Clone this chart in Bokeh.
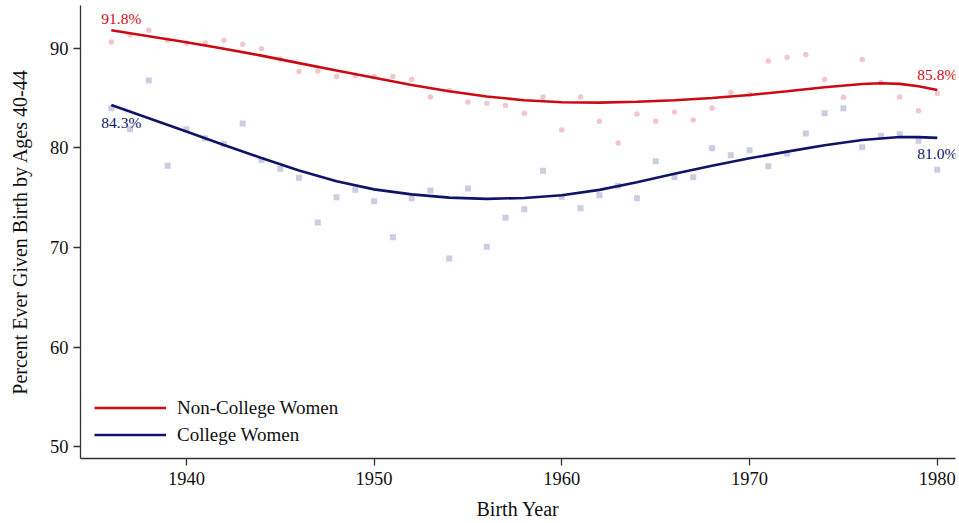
from bokeh.plotting import figure
from bokeh.models import Range1d, Legend, LegendItem
from bokeh.core.properties import value
from bokeh.embed import file_html
from bokeh.resources import INLINE

# Birth cohorts 1936-1980
years = list(range(1936, 1981))

# Share of women who have ever given birth by ages 40-44 (%), per cohort
noncollege = [90.63, 91.33, 91.8, 90.8, 90.53, 90.53, 90.8, 90.4, 89.93, 88.9,
              87.65, 87.72, 87.15, 87.25, 87.15,
              87.15, 86.85, 85.1, 85.74, 84.6, 84.47, 84.24, 83.47, 85.1, 81.8,
              85.1, 82.66, 80.49, 83.4, 82.66,
              83.6, 82.8, 83.97, 85.57, 85.37, 88.72, 89.06, 89.36, 86.85, 85.07,
              88.86, 86.55, 85.1, 83.73, 85.44]
college = [83.97, 81.86, 86.75, 78.21, 81.86, 80.96, 80.35, 82.43, 78.78, 77.91,
           77.0, 72.52, 75.03, 75.8, 74.63,
           71.02, 74.93, 75.73, 68.9, 75.93, 70.08, 72.99, 73.83, 77.71, 75.1,
           73.93, 75.23, 76.2, 74.93, 78.65,
           77.04, 77.04, 79.95, 79.25, 79.75, 78.14, 79.42, 81.43, 83.47, 83.97,
           80.05, 81.19, 81.36, 80.72, 77.81]

# Smoothed trend values
fit_noncollege_years = [1936, 1938, 1940, 1942, 1944, 1946, 1948, 1950, 1952, 1954,
                        1956, 1958, 1960, 1962, 1964, 1966, 1968, 1970, 1972, 1974,
                        1976, 1977, 1978, 1979, 1980]
fit_noncollege = [91.8, 91.2, 90.6, 89.95, 89.25, 88.5, 87.75, 87.03, 86.3, 85.68,
                  85.15, 84.78, 84.58, 84.54, 84.62, 84.77, 85.0, 85.3, 85.68, 86.08,
                  86.4, 86.48, 86.42, 86.18, 85.8]
fit_college_years = [1936, 1938, 1940, 1942, 1944, 1946, 1948, 1950, 1952, 1954,
                     1956, 1958, 1960, 1962, 1964, 1966, 1968, 1970, 1972, 1974,
                     1976, 1978, 1979, 1980]
fit_college = [84.3, 82.97, 81.63, 80.29, 78.97, 77.73, 76.65, 75.83, 75.33, 75.0,
               74.88, 74.97, 75.25, 75.78, 76.55, 77.4, 78.2, 78.95, 79.62, 80.25,
               80.78, 81.08, 81.07, 81.0]

x_ticks = [1940, 1950, 1960, 1970, 1980]
y_ticks = [50, 60, 70, 80, 90]

RED = "#cc0a14"
NAVY = "#0e1566"
FONT = "Liberation Serif"

p = figure(width=959, height=523, output_backend="svg", toolbar_location=None,
           x_range=Range1d(1934.36, 1980.97), y_range=Range1d(48.83, 94.28),
           min_border_left=80, min_border_right=4, min_border_top=5,
           min_border_bottom=65)
p.outline_line_color = None
p.grid.visible = False
p.background_fill_color = "white"

# raw cohort points
p.scatter(years, noncollege, marker="circle", size=5.5, fill_color="#f2c6cb",
          line_color=None)
p.scatter(years, college, marker="square", size=6, fill_color="#cbcde0",
          line_color=None)

# trend lines
r_nc = p.line(fit_noncollege_years, fit_noncollege, line_color=RED, line_width=2.6)
r_c = p.line(fit_college_years, fit_college, line_color=NAVY, line_width=2.6)

# endpoint labels
def pct(v):
    return f"{v:.1f}%"

lbl_font = value(FONT)
p.text(x=[fit_noncollege_years[0]], y=[fit_noncollege[0]],
       text=[pct(fit_noncollege[0])], x_offset=10, y_offset=-3,
       text_align="center", text_baseline="bottom", text_color=RED,
       text_font=lbl_font, text_font_size="15.5px")
p.text(x=[fit_college_years[0]], y=[fit_college[0]],
       text=[pct(fit_college[0])], x_offset=10, y_offset=9,
       text_align="center", text_baseline="top", text_color=NAVY,
       text_font=lbl_font, text_font_size="15.5px")
p.text(x=[fit_noncollege_years[-1]], y=[fit_noncollege[-1]],
       text=[pct(fit_noncollege[-1])], x_offset=0, y_offset=-7,
       text_align="center", text_baseline="bottom", text_color=RED,
       text_font=lbl_font, text_font_size="15.5px")
p.text(x=[fit_college_years[-1]], y=[fit_college[-1]],
       text=[pct(fit_college[-1])], x_offset=0, y_offset=7,
       text_align="center", text_baseline="top", text_color=NAVY,
       text_font=lbl_font, text_font_size="15.5px")

# axes
for ax in (p.xaxis[0], p.yaxis[0]):
    ax.axis_line_color = "#333333"
    ax.axis_line_width = 1.3
    ax.major_tick_line_color = "#333333"
    ax.major_tick_line_width = 1.3
    ax.major_tick_in = 0
    ax.major_tick_out = 7
    ax.minor_tick_line_color = None
    ax.major_label_text_font = FONT
    ax.major_label_text_font_size = "18.5px"
    ax.major_label_text_color = "#111111"
    ax.axis_label_text_font = FONT
    ax.axis_label_text_font_size = "20px"
    ax.axis_label_text_font_style = "normal"
    ax.axis_label_text_color = "#111111"

p.xaxis.ticker = x_ticks
p.yaxis.ticker = y_ticks
p.xaxis.axis_label = "Birth Year"
p.yaxis.axis_label = "Percent Ever Given Birth by Ages 40-44"
p.xaxis.major_label_standoff = 6
p.yaxis.major_label_standoff = 5
p.xaxis.axis_label_standoff = 10
p.yaxis.axis_label_standoff = 16

legend = Legend(items=[LegendItem(label="Non-College Women", renderers=[r_nc]),
                       LegendItem(label="College Women", renderers=[r_c])],
                location=(14, 10))
legend.background_fill_alpha = 0
legend.border_line_color = None
legend.padding = 0
legend.margin = 0
legend.spacing = 0
legend.glyph_width = 72
legend.glyph_height = 27
legend.label_height = 27
legend.label_standoff = 11
legend.label_text_font = FONT
legend.label_text_font_size = "19px"
legend.label_text_color = "#111111"
p.add_layout(legend)

open("out.html", "w").write(file_html(p, INLINE))
